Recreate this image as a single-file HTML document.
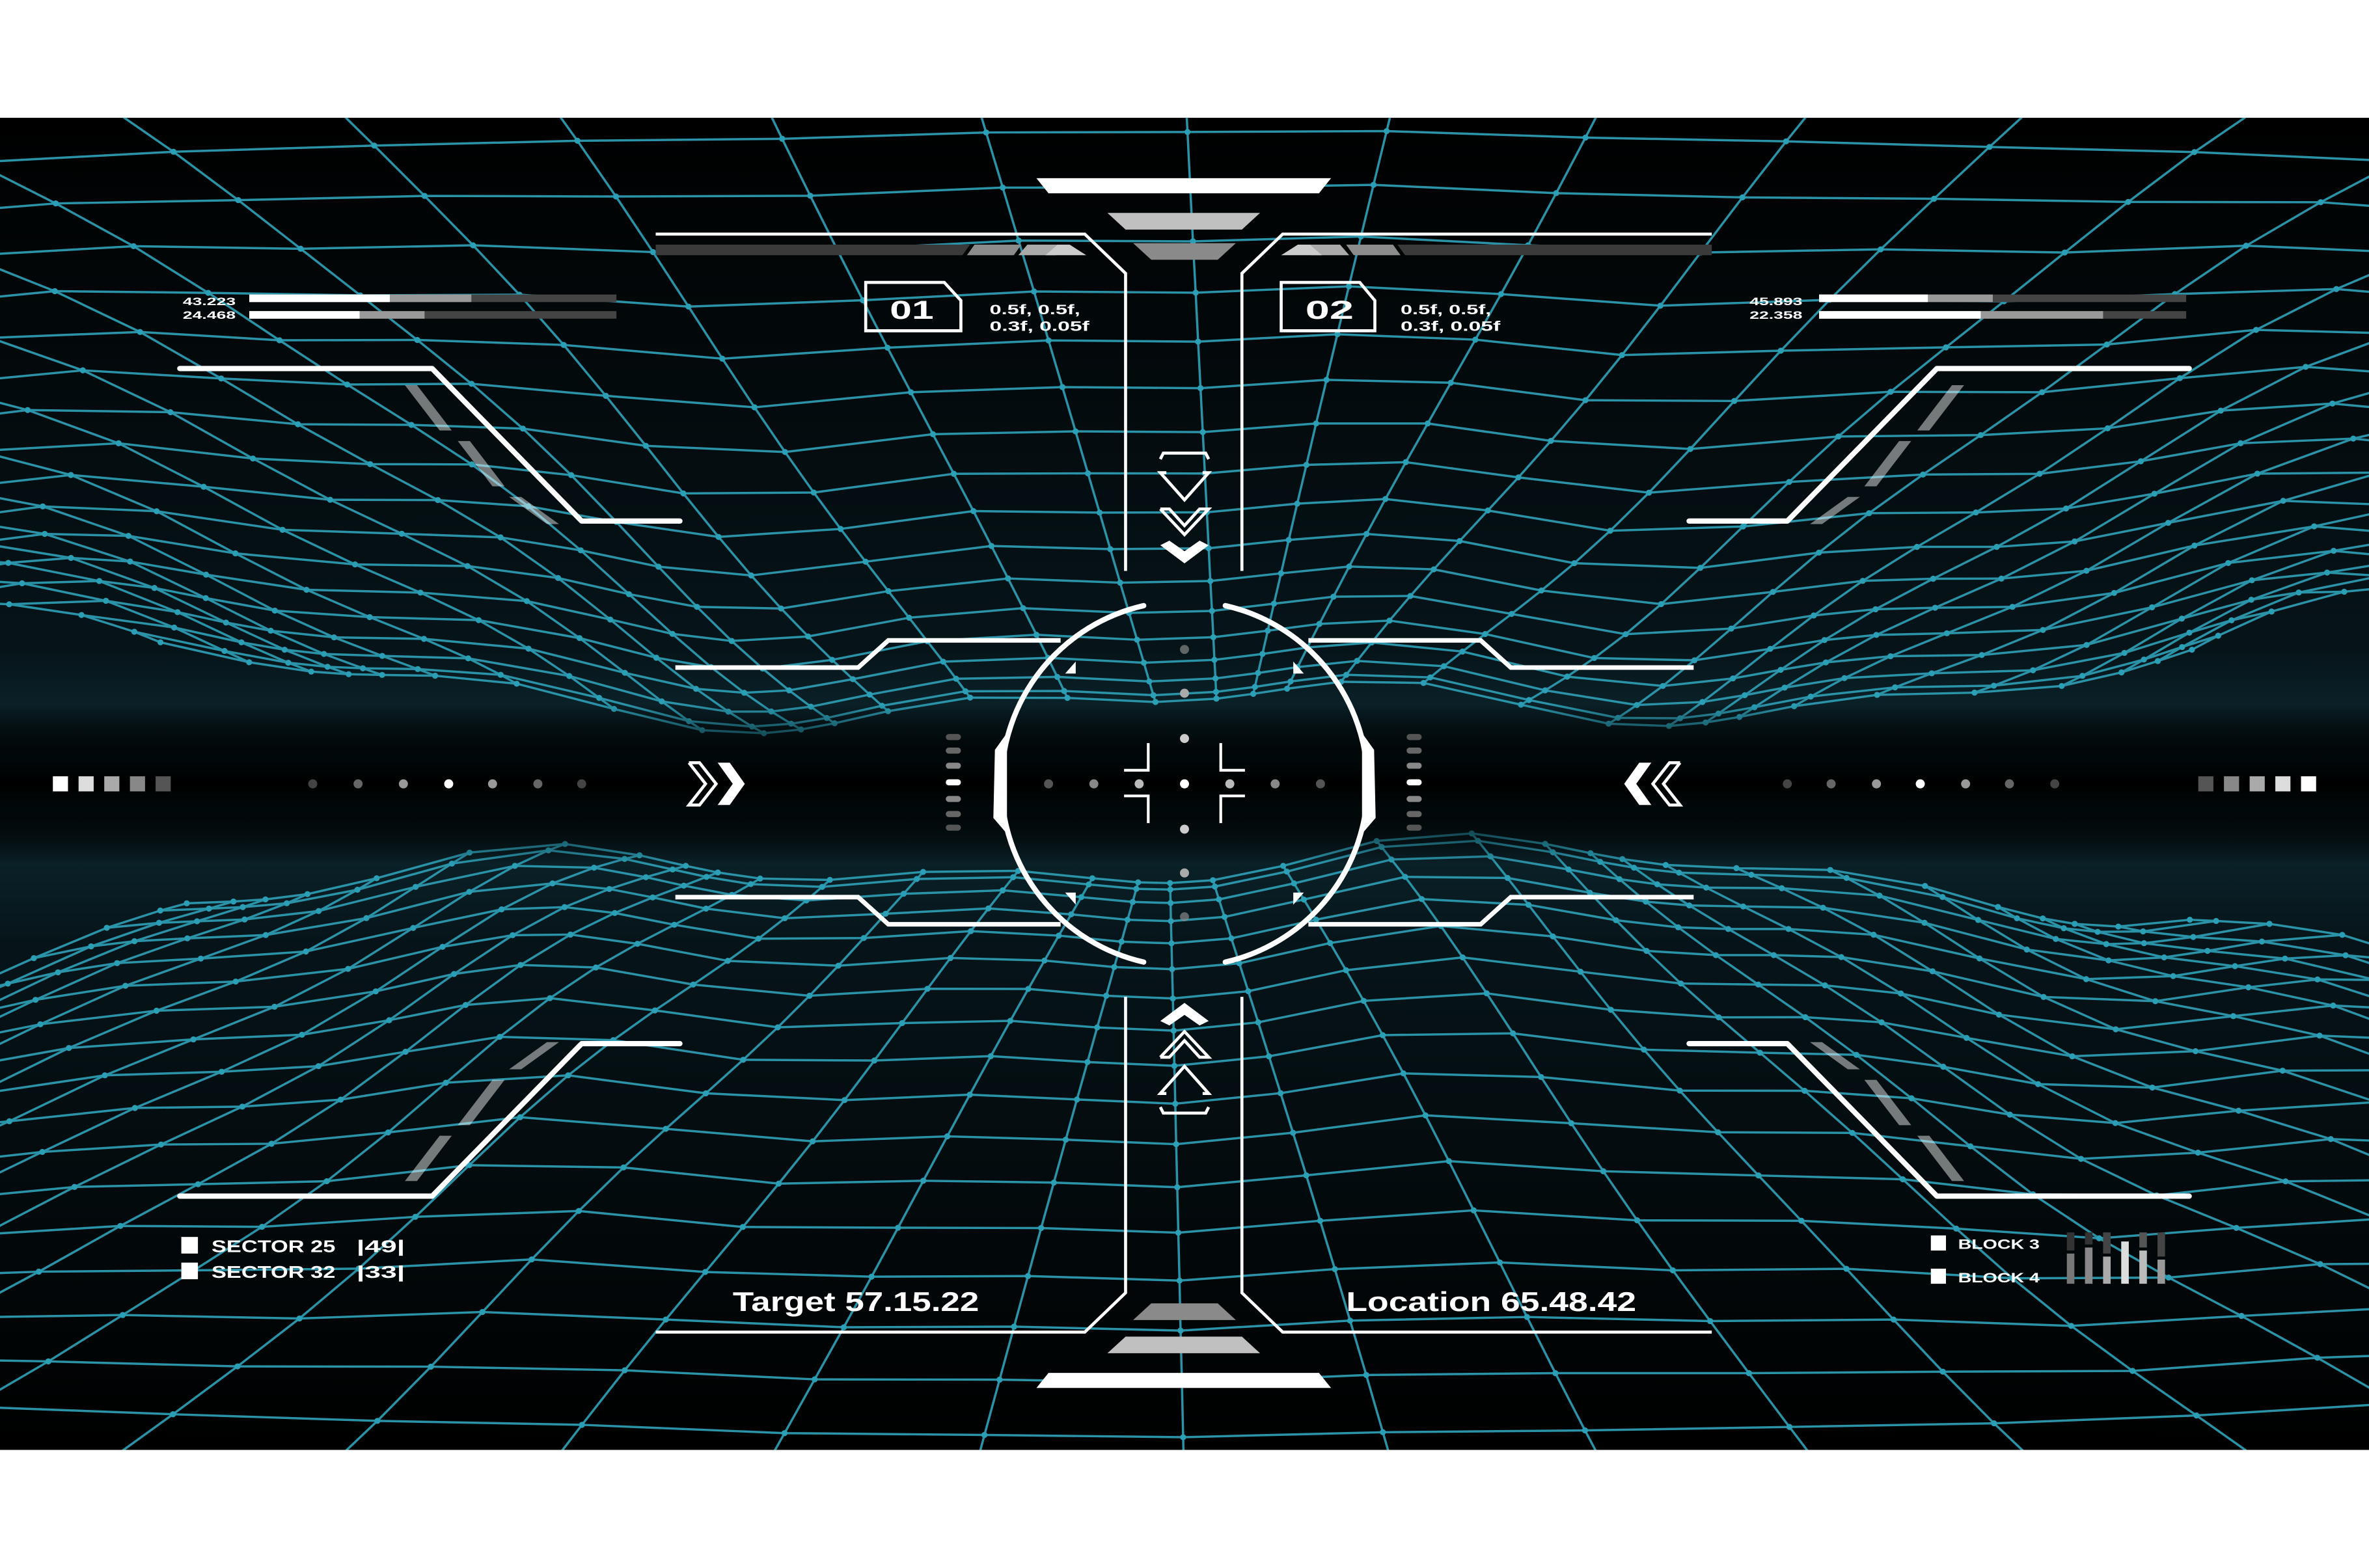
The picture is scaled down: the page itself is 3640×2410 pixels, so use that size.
<!DOCTYPE html>
<html><head><meta charset="utf-8"><style>
html,body{margin:0;padding:0;background:#fff;}
svg{display:block;}
text{font-family:"Liberation Sans",sans-serif;fill:#fff;font-weight:bold;}
</style></head><body>
<svg id="s" width="3640" height="2410" viewBox="0 0 1568 1038.2" preserveAspectRatio="none" xmlns="http://www.w3.org/2000/svg">
<defs>
<linearGradient id="bg" x1="0" y1="0" x2="0" y2="1">
<stop offset="0" stop-color="#000"/>
<stop offset="0.4" stop-color="#061419"/>
<stop offset="0.44" stop-color="#0a2128"/>
<stop offset="0.5" stop-color="#000"/>
<stop offset="0.56" stop-color="#0a2128"/>
<stop offset="0.62" stop-color="#061419"/>
<stop offset="1" stop-color="#000"/>
</linearGradient>
<linearGradient id="band" x1="0" y1="0" x2="0" y2="1">
<stop offset="0" stop-color="#000" stop-opacity="0"/>
<stop offset="0.35" stop-color="#01080a" stop-opacity="0.95"/>
<stop offset="0.5" stop-color="#000" stop-opacity="1"/>
<stop offset="0.65" stop-color="#01080a" stop-opacity="0.95"/>
<stop offset="1" stop-color="#000" stop-opacity="0"/>
</linearGradient>
<clipPath id="cp"><rect x="0" y="78" width="1568" height="882"/></clipPath>
</defs>
<rect x="0" y="78" width="1568" height="882" fill="url(#bg)"/>
<g id="grid" clip-path="url(#cp)" stroke="#2a93a8" stroke-width="1.5" fill="none"></g>
<rect x="0" y="466" width="1568" height="106" fill="url(#band)"/>

<g fill="none" stroke="#fff" stroke-width="2">
<polyline points="434,155 718,155 745,181 745,378"/>
<polyline points="1133,155 849,155 822,181 822,378"/>
<polyline points="434,882 718,882 745,856 745,660"/>
<polyline points="1133,882 849,882 822,856 822,660"/>
</g>
<polygon points="686,118 881,118 873,128 694,128" fill="#fff"/>
<polygon points="733,141 834,141 822,152 745,152" fill="#c0c0c0"/>
<polygon points="750,161 818,161 806,172 762,172" fill="#8a8a8a"/>
<polygon points="686,919 881,919 873,909 694,909" fill="#fff"/>
<polygon points="733,896 834,896 822,885 745,885" fill="#c0c0c0"/>
<polygon points="750,874 818,874 806,863 762,863" fill="#8a8a8a"/>
<polygon points="434,162 642,162 637,169 434,169" fill="#3a3a3a"/>
<polygon points="645,162 676,162 671,169 640,169" fill="#8c8c8c"/>
<polygon points="680,162 702,162 699,169 674,169" fill="#aaa"/>
<polygon points="700,162 708,162 719,169 692,169" fill="#ccc"/>
<polygon points="1133,162 925,162 930,169 1133,169" fill="#3a3a3a"/>
<polygon points="922,162 891,162 896,169 927,169" fill="#8c8c8c"/>
<polygon points="887,162 865,162 868,169 893,169" fill="#aaa"/>
<polygon points="867,162 859,162 848,169 875,169" fill="#ccc"/>

<polygon points="573,187 625,187 636,199 636,219 573,219" fill="none" stroke="#fff" stroke-width="2"/>
<text x="589" y="211" font-size="17" textLength="29" lengthAdjust="spacingAndGlyphs">01</text>
<text x="655" y="208" font-size="9" textLength="60" lengthAdjust="spacingAndGlyphs">0.5f, 0.5f,</text>
<text x="655" y="219" font-size="9" textLength="66" lengthAdjust="spacingAndGlyphs">0.3f, 0.05f</text>
<polygon points="848,187 900,187 910,199 910,219 848,219" fill="none" stroke="#fff" stroke-width="2"/>
<text x="864" y="211" font-size="17" textLength="32" lengthAdjust="spacingAndGlyphs">02</text>
<text x="927" y="208" font-size="9" textLength="60" lengthAdjust="spacingAndGlyphs">0.5f, 0.5f,</text>
<text x="927" y="219" font-size="9" textLength="66" lengthAdjust="spacingAndGlyphs">0.3f, 0.05f</text>

<g fill="none" stroke="#fff" stroke-width="2">
<polyline points="768,304 770,300 798,300 800,304"/>
<polyline points="772,313 768,313 784,331 800,313 796,313"/>
<polyline points="768,337 784,354 800,337 794,337 784,348 774,337 768,337"/>
<polyline points="768,733 770,737 798,737 800,733"/>
<polyline points="772,724 768,724 784,706 800,724 796,724"/>
<polyline points="768,700 784,683 800,700 794,700 784,689 774,700 768,700"/>
</g>
<polygon points="768,361 784,373 800,361 794,358 784,365 774,358" fill="#fff"/>
<polygon points="768,676 784,664 800,676 794,679 784,672 774,679" fill="#fff"/>

<text x="121" y="202" font-size="7" textLength="35" lengthAdjust="spacingAndGlyphs">43.223</text>
<text x="121" y="211" font-size="7" textLength="35" lengthAdjust="spacingAndGlyphs">24.468</text>
<rect x="165" y="195" width="243" height="5" fill="#444"/><rect x="165" y="195" width="147" height="5" fill="#999"/><rect x="165" y="195" width="93" height="5" fill="#fff"/>
<rect x="165" y="206" width="243" height="5" fill="#444"/><rect x="165" y="206" width="116" height="5" fill="#999"/><rect x="165" y="206" width="73" height="5" fill="#fff"/>
<text x="1158" y="202" font-size="7" textLength="35" lengthAdjust="spacingAndGlyphs">45.893</text>
<text x="1158" y="211" font-size="7" textLength="35" lengthAdjust="spacingAndGlyphs">22.358</text>
<rect x="1204" y="195" width="243" height="5" fill="#444"/><rect x="1204" y="195" width="115" height="5" fill="#999"/><rect x="1204" y="195" width="72" height="5" fill="#fff"/>
<rect x="1204" y="206" width="243" height="5" fill="#444"/><rect x="1204" y="206" width="188" height="5" fill="#999"/><rect x="1204" y="206" width="107" height="5" fill="#fff"/>

<g fill="none" stroke="#fff" stroke-width="3.5" stroke-linecap="round" stroke-linejoin="round">
<polyline points="119,244 286,244 385,345 450,345"/>
<polyline points="1449,244 1282,244 1183,345 1118,345"/>
<polyline points="119,792 286,792 385,691 450,691"/>
<polyline points="1449,792 1282,792 1183,691 1118,691"/>
</g>
<g fill="#fff" opacity="0.45">
<polygon points="268,255 276,255 299,285 291,285"/><polygon points="303,292 311,292 334,322 326,322"/><polygon points="337,329 345,329 370,347 362,347"/>
<polygon points="1300,255 1292,255 1269,285 1277,285"/><polygon points="1265,292 1257,292 1234,322 1242,322"/><polygon points="1231,329 1223,329 1198,347 1206,347"/>
<polygon points="268,782 276,782 299,752 291,752"/><polygon points="303,745 311,745 334,715 326,715"/><polygon points="337,708 345,708 370,690 362,690"/>
<polygon points="1300,782 1292,782 1269,752 1277,752"/><polygon points="1265,745 1257,745 1234,715 1242,715"/><polygon points="1231,708 1223,708 1198,690 1206,690"/>
</g>

<g fill="none" stroke="#fff" stroke-width="3">
<polyline points="447,442 568,442 588,424 702,424"/>
<polyline points="447,594 568,594 588,612 702,612"/>
<polyline points="1121,442 1000,442 980,424 866,424"/>
<polyline points="1121,594 1000,594 980,612 866,612"/>
</g>
<g fill="none" stroke="#fff" stroke-width="3.5" stroke-linecap="round">
<path d="M757,401 A121,121 0 0 0 757,637"/>
<path d="M811,401 A121,121 0 0 1 811,637"/>
</g>
<path d="M665,490 L660,497 L659,541 L665,548 Z" fill="#fff" stroke="#fff" stroke-width="3"/>
<path d="M903,490 L908,497 L909,541 L903,548 Z" fill="#fff" stroke="#fff" stroke-width="3"/>
<g fill="#fff">
<polygon points="712,438 712,446 705,446"/><polygon points="856,438 856,446 863,446"/>
<polygon points="712,599 712,591 705,591"/><polygon points="856,599 856,591 863,591"/>
</g>
<g fill="none" stroke="#fff" stroke-width="1.8">
<polyline points="760,492 760,510 744,510"/><polyline points="808,492 808,510 824,510"/>
<polyline points="760,545 760,527 744,527"/><polyline points="808,545 808,527 824,527"/>
</g>
<g>
<ellipse cx="694" cy="519" rx="3" ry="3" fill="#555"/><ellipse cx="724" cy="519" rx="3" ry="3" fill="#888"/><ellipse cx="754" cy="519" rx="3" ry="3" fill="#bbb"/>
<ellipse cx="784" cy="519" rx="3" ry="3" fill="#fff"/><ellipse cx="814" cy="519" rx="3" ry="3" fill="#bbb"/><ellipse cx="844" cy="519" rx="3" ry="3" fill="#888"/><ellipse cx="874" cy="519" rx="3" ry="3" fill="#555"/>
<ellipse cx="784" cy="489" rx="3" ry="3" fill="#ccc"/><ellipse cx="784" cy="549" rx="3" ry="3" fill="#ccc"/>
<ellipse cx="784" cy="459" rx="3" ry="3" fill="#aaa"/><ellipse cx="784" cy="578" rx="3" ry="3" fill="#aaa"/>
<ellipse cx="784" cy="430" rx="3" ry="3" fill="#888" opacity="0.7"/><ellipse cx="784" cy="607" rx="3" ry="3" fill="#888" opacity="0.7"/>
</g>
<g>
<rect x="626" y="486" width="10" height="4" rx="2" fill="#555"/><rect x="626" y="495" width="10" height="4" rx="2" fill="#666"/><rect x="626" y="505" width="10" height="4" rx="2" fill="#888"/><rect x="626" y="516" width="10" height="4" rx="2" fill="#fff"/><rect x="626" y="527" width="10" height="4" rx="2" fill="#888"/><rect x="626" y="537" width="10" height="4" rx="2" fill="#666"/><rect x="626" y="546" width="10" height="4" rx="2" fill="#555"/>
<rect x="931" y="486" width="10" height="4" rx="2" fill="#555"/><rect x="931" y="495" width="10" height="4" rx="2" fill="#666"/><rect x="931" y="505" width="10" height="4" rx="2" fill="#888"/><rect x="931" y="516" width="10" height="4" rx="2" fill="#fff"/><rect x="931" y="527" width="10" height="4" rx="2" fill="#888"/><rect x="931" y="537" width="10" height="4" rx="2" fill="#666"/><rect x="931" y="546" width="10" height="4" rx="2" fill="#555"/>
</g>
<g>
<circle cx="207" cy="519" r="3" fill="#444"/><circle cx="237" cy="519" r="3" fill="#666"/><circle cx="267" cy="519" r="3" fill="#999"/><circle cx="297" cy="519" r="3" fill="#fff"/><circle cx="326" cy="519" r="3" fill="#999"/><circle cx="356" cy="519" r="3" fill="#666"/><circle cx="385" cy="519" r="3" fill="#444"/>
<circle cx="1183" cy="519" r="3" fill="#444"/><circle cx="1212" cy="519" r="3" fill="#666"/><circle cx="1242" cy="519" r="3" fill="#999"/><circle cx="1271" cy="519" r="3" fill="#fff"/><circle cx="1301" cy="519" r="3" fill="#999"/><circle cx="1330" cy="519" r="3" fill="#666"/><circle cx="1360" cy="519" r="3" fill="#444"/>
</g>
<g>
<rect x="35" y="514" width="10" height="10" fill="#fff"/><rect x="52" y="514" width="10" height="10" fill="#ddd"/><rect x="69" y="514" width="10" height="10" fill="#aaa"/><rect x="86" y="514" width="10" height="10" fill="#888"/><rect x="103" y="514" width="10" height="10" fill="#555"/>
<rect x="1455" y="514" width="10" height="10" fill="#555"/><rect x="1472" y="514" width="10" height="10" fill="#888"/><rect x="1489" y="514" width="10" height="10" fill="#aaa"/><rect x="1506" y="514" width="10" height="10" fill="#ddd"/><rect x="1523" y="514" width="10" height="10" fill="#fff"/>
</g>
<polyline points="456,505 463,505 474,519 463,533 456,533 467,519 456,505" fill="none" stroke="#fff" stroke-width="2"/>
<polygon points="475,505 483,505 493,519 483,533 475,533 485,519" fill="#fff"/>
<polyline points="1112,505 1105,505 1094,519 1105,533 1112,533 1101,519 1112,505" fill="none" stroke="#fff" stroke-width="2"/>
<polygon points="1093,505 1085,505 1075,519 1085,533 1093,533 1083,519" fill="#fff"/>

<text x="485" y="868" font-size="18" textLength="163" lengthAdjust="spacingAndGlyphs">Target 57.15.22</text>
<text x="891" y="868" font-size="18" textLength="192" lengthAdjust="spacingAndGlyphs">Location 65.48.42</text>
<rect x="120" y="819" width="11" height="11" fill="#fff"/><rect x="120" y="836" width="11" height="11" fill="#fff"/>
<text x="140" y="829" font-size="11" textLength="82" lengthAdjust="spacingAndGlyphs">SECTOR 25</text><text x="236" y="829" font-size="11" textLength="32" lengthAdjust="spacingAndGlyphs">|49|</text>
<text x="140" y="846" font-size="11" textLength="82" lengthAdjust="spacingAndGlyphs">SECTOR 32</text><text x="236" y="846" font-size="11" textLength="32" lengthAdjust="spacingAndGlyphs">|33|</text>
<rect x="1278" y="818" width="10" height="10" fill="#fff"/><rect x="1278" y="840" width="10" height="10" fill="#fff"/>
<text x="1296" y="827" font-size="9" textLength="54" lengthAdjust="spacingAndGlyphs">BLOCK 3</text><text x="1296" y="849" font-size="9" textLength="54" lengthAdjust="spacingAndGlyphs">BLOCK 4</text>
<g>
<rect x="1368" y="830" width="5" height="20" fill="#777"/><rect x="1368" y="816" width="5" height="12" fill="#333"/>
<rect x="1380" y="826" width="5" height="24" fill="#888"/><rect x="1380" y="816" width="5" height="8" fill="#333"/>
<rect x="1392" y="832" width="5" height="18" fill="#aaa"/><rect x="1392" y="816" width="5" height="14" fill="#444"/>
<rect x="1404" y="822" width="5" height="28" fill="#ddd"/>
<rect x="1416" y="828" width="5" height="22" fill="#bbb"/><rect x="1416" y="816" width="5" height="10" fill="#555"/>
<rect x="1428" y="834" width="5" height="16" fill="#999"/><rect x="1428" y="816" width="5" height="16" fill="#444"/>
</g>
</svg>
<script>
(function(){
var g=document.getElementById('grid'),NS='http://www.w3.org/2000/svg';
function add(tag,attrs){var e=document.createElementNS(NS,tag);for(var k in attrs)e.setAttribute(k,attrs[k]);g.appendChild(e);return e;}
function half(sign,phase){
  var R=17,C=32,P=[];
  for(var k=0;k<=R;k++){
    var t=k/R, s=Math.pow(t,1.6);
    var row=[];
    for(var j=0;j<=C;j++){
      var x0=-1500+j*(4568/C);
      var f=0.3+0.7*s;
      var x=784+(x0-784)*f+ (1-s)*25*Math.sin(j*0.9+phase);
      var d=50+420*s;
      d+= (1-s)*(14*Math.sin(x/110+phase)+8*Math.sin(x/47+phase*2)) + s*Math.pow((x-784)/784,2)*-25;
      d+= (1-s)*Math.pow((x-784)/700,2)*30;
      row.push([x,519+sign*d]);
    }
    P.push(row);
  }
  for(var k=0;k<=R;k++){var pts=P[k].map(function(p){return p[0].toFixed(1)+','+p[1].toFixed(1)}).join(' ');add('polyline',{points:pts});}
  for(var j=0;j<=C;j++){var pts=P.map(function(r){return r[j][0].toFixed(1)+','+r[j][1].toFixed(1)}).join(' ');add('polyline',{points:pts});}
  for(var k=0;k<=R;k++)for(var j=0;j<=C;j++){var p=P[k][j];if(p[0]>-5&&p[0]<1573)add('circle',{cx:p[0].toFixed(1),cy:p[1].toFixed(1),r:2,fill:'#2a9fb5',stroke:'none'});}
}
half(-1,0.3);half(1,1.7);
})();
</script>
</body></html>
